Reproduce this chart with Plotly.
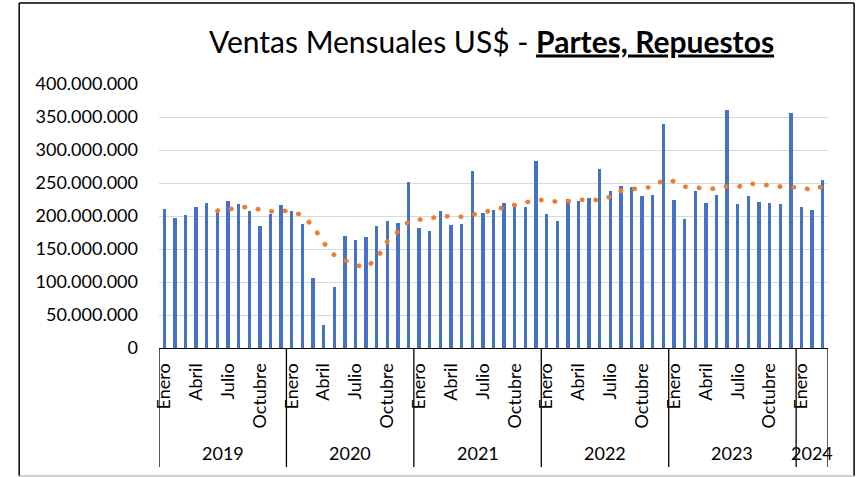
import pandas as pd
import plotly.graph_objects as go

meses = ["Enero", "Febrero", "Marzo", "Abril", "Mayo", "Junio", "Julio",
         "Agosto", "Septiembre", "Octubre", "Noviembre", "Diciembre"]
meses_visibles = ["Enero", "Abril", "Julio", "Octubre"]

# ventas mensuales en millones de US$
ventas_2019 = [211, 197, 201.5, 214, 219, 206, 222, 218, 207, 185, 203.5, 216]
ventas_2020 = [208, 188, 106.5, 35, 92, 169, 163, 168, 185, 192, 189, 251.5]
ventas_2021 = [182, 177, 208, 187, 188, 268, 204, 208.6, 220, 216, 213.6, 283]
ventas_2022 = [203, 193, 225.8, 222, 227, 271, 238, 245.5, 244, 231, 232, 339]
ventas_2023 = [224, 195.5, 238, 220, 232, 360, 217.7, 231, 221, 219, 218, 356.6]
ventas_2024 = [213, 209.6, 254]

anios = ["2019", "2020", "2021", "2022", "2023", "2024"]
series = [ventas_2019, ventas_2020, ventas_2021, ventas_2022, ventas_2023, ventas_2024]

filas = []
for anio, valores in zip(anios, series):
    for mes, v in zip(meses, valores):
        filas.append({"anio": anio, "mes": mes, "ventas": v * 1_000_000})
df = pd.DataFrame(filas)
df["pos"] = range(len(df))
# linea de tendencia: media movil de 6 periodos
df["media_movil"] = df["ventas"].rolling(6).mean()

AZUL = "#4472C4"
NARANJA = "#ED7D31"
FUENTE = "Lato"

fig = go.Figure()
fig.add_trace(go.Bar(x=df["pos"], y=df["ventas"], width=0.32,
                     marker=dict(color=AZUL, line=dict(width=0))))
fig.add_trace(go.Scatter(x=df["pos"], y=df["media_movil"], mode="lines",
                         line=dict(color=NARANJA, width=4.6, dash="0.5px,13.2px")))

marcas = df[df["mes"].isin(meses_visibles)]
n = len(df)

# separadores de año y etiquetas de año
shapes = []
annotations = []
inicio = 0
for anio, valores in zip(anios, series):
    fin = inicio + len(valores)
    shapes.append(dict(type="line", xref="x", yref="paper", x0=inicio - 0.5, x1=inicio - 0.5,
                       y0=0, y1=-0.451, line=dict(color="black", width=1.3)))
    annotations.append(dict(x=(inicio + fin - 1) / 2, y=-0.398, xref="x", yref="paper",
                            text=anio, showarrow=False, yanchor="middle",
                            font=dict(family=FUENTE, size=18, color="black")))
    inicio = fin
shapes.append(dict(type="line", xref="x", yref="paper", x0=n - 0.5, x1=n - 0.5,
                   y0=0, y1=-0.451, line=dict(color="black", width=1.3)))

# marco del grafico
for x0, y0, x1, y1, col in [(-0.209, -0.485, -0.209, 1.307, "black"),
                            (-0.209, 1.307, 1.039, 1.307, "black"),
                            (1.039, 1.307, 1.039, -0.485, "black"),
                            (-0.209, -0.485, 1.039, -0.485, "#bfbfbf")]:
    shapes.append(dict(type="line", xref="paper", yref="paper", x0=x0, y0=y0, x1=x1, y1=y1,
                       line=dict(color=col, width=1.5)))

fig.update_layout(
    width=860, height=477,
    margin=dict(l=159, r=32, t=84, b=129),
    paper_bgcolor="white", plot_bgcolor="white",
    showlegend=False,
    separators=",.",
    font=dict(family=FUENTE, size=18, color="black"),
    title=dict(text="Ventas Mensuales US$ - <b><u>Partes, Repuestos</u></b>",
               x=0.5715, xref="container", xanchor="center",
               y=1 - 42 / 477, yref="container", yanchor="middle",
               font=dict(family=FUENTE, size=30, color="black")),
    shapes=shapes,
    annotations=annotations,
    bargap=0,
)
fig.update_xaxes(range=[-0.5, n - 0.5], tickvals=marcas["pos"], ticktext=marcas["mes"],
                 tickangle=-90, showgrid=False, zeroline=False, showline=True,
                 linecolor="black", linewidth=1.3, ticks="", ticklabelstandoff=7,
                 tickfont=dict(family=FUENTE, size=18, color="black"))
fig.update_yaxes(range=[0, 400_000_000], dtick=50_000_000, tickformat=",.0f",
                 showgrid=True, gridcolor="#d9d9d9", gridwidth=1.3, zeroline=False,
                 showline=False, ticks="", ticklabelstandoff=20,
                 tickfont=dict(family=FUENTE, size=18, color="black"))

fig.write_html("out.html", config={"displayModeBar": False}, post_script=(
    "document.body.style.margin='0';"
    "document.querySelectorAll('.scatterlayer path.js-line')"
    ".forEach(function(p){p.style.strokeLinecap='round';});"))
